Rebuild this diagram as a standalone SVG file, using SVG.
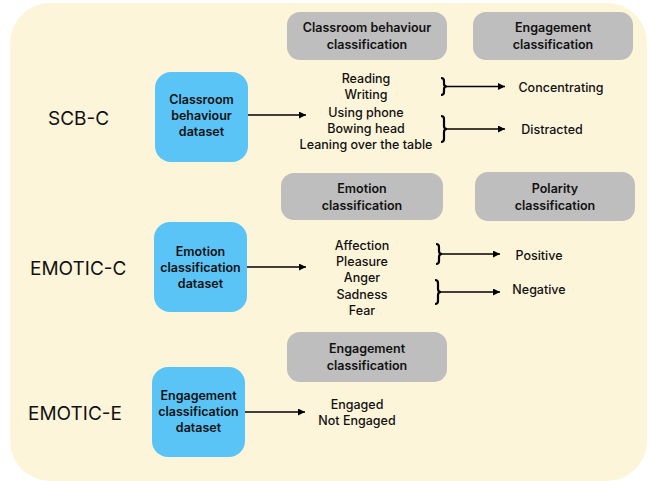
<svg xmlns="http://www.w3.org/2000/svg" width="650" height="481" viewBox="0 0 650 481">
<defs>
<marker id="ah" viewBox="0 0 10 10" refX="10" refY="5" markerWidth="7" markerHeight="7" markerUnits="userSpaceOnUse" orient="auto">
<path d="M0,0 L10,5 L0,10 z" fill="#000"/>
</marker>
<style>
.bg{fill:#FDF5DA}
.blue{fill:#5BC4F7}
.gray{fill:#BEBEBE}
text{font-family:Inter,"Noto Sans","DejaVu Sans",sans-serif;fill:#111}
.bt{font-size:12.5px;font-weight:600;text-anchor:middle}
.gt{font-size:12.5px;font-weight:600;text-anchor:middle}
.lt{font-size:12.5px;font-weight:500;text-anchor:middle}
.big{font-size:19px;font-weight:400}
.conn{stroke:#000;stroke-width:1.6;fill:none}
.brace{stroke:#000;stroke-width:2.2;fill:none}
</style>
</defs>
<rect class="bg" x="10" y="3" width="637" height="478" rx="40" ry="40"/>

<text class="big" x="48" y="125">SCB-C</text>
<text class="big" x="30" y="275">EMOTIC-C</text>
<text class="big" x="28" y="420">EMOTIC-E</text>

<g id="scb-dataset">
<rect class="blue" x="155" y="72" width="93" height="90" rx="16"/>
<text class="bt" x="201.5" y="104">Classroom</text>
<text class="bt" x="201.5" y="120">behaviour</text>
<text class="bt" x="201.5" y="136">dataset</text>
</g>
<g id="cb-class">
<rect class="gray" x="287" y="12" width="160" height="48" rx="13"/>
<text class="gt" x="367" y="32">Classroom behaviour</text>
<text class="gt" x="367" y="49">classification</text>
</g>
<g id="eng-class-1">
<rect class="gray" x="473" y="12" width="160" height="48" rx="13"/>
<text class="gt" x="553" y="32">Engagement</text>
<text class="gt" x="553" y="49">classification</text>
</g>
<g id="cb-list">
<text class="lt" x="366" y="83">Reading</text>
<text class="lt" x="366" y="99">Writing</text>
<text class="lt" x="366" y="117">Using phone</text>
<text class="lt" x="366" y="133">Bowing head</text>
<text class="lt" x="366" y="149">Leaning over the table</text>
</g>
<g id="concentrating"><text class="lt" x="561" y="92">Concentrating</text></g>
<g id="distracted"><text class="lt" x="552" y="134">Distracted</text></g>

<g id="emo-dataset">
<rect class="blue" x="154" y="222" width="93" height="90" rx="16"/>
<text class="bt" x="200.5" y="256">Emotion</text>
<text class="bt" x="200.5" y="272">classification</text>
<text class="bt" x="200.5" y="288">dataset</text>
</g>
<g id="emo-class">
<rect class="gray" x="281" y="173" width="162" height="47" rx="13"/>
<text class="gt" x="362" y="193">Emotion</text>
<text class="gt" x="362" y="210">classification</text>
</g>
<g id="pol-class">
<rect class="gray" x="475" y="172" width="160" height="49" rx="13"/>
<text class="gt" x="555" y="193">Polarity</text>
<text class="gt" x="555" y="210">classification</text>
</g>
<g id="emo-list">
<text class="lt" x="362" y="250">Affection</text>
<text class="lt" x="362" y="266">Pleasure</text>
<text class="lt" x="362" y="282">Anger</text>
<text class="lt" x="362" y="299">Sadness</text>
<text class="lt" x="362" y="315">Fear</text>
</g>
<g id="positive"><text class="lt" x="539" y="260">Positive</text></g>
<g id="negative"><text class="lt" x="539" y="294">Negative</text></g>

<g id="eng-dataset">
<rect class="blue" x="152" y="367" width="93" height="90" rx="16"/>
<text class="bt" x="198.5" y="400">Engagement</text>
<text class="bt" x="198.5" y="416">classification</text>
<text class="bt" x="198.5" y="432">dataset</text>
</g>
<g id="eng-class-2">
<rect class="gray" x="287" y="332" width="160" height="50" rx="13"/>
<text class="gt" x="367" y="353">Engagement</text>
<text class="gt" x="367" y="370">classification</text>
</g>
<g id="eng-list">
<text class="lt" x="357" y="409">Engaged</text>
<text class="lt" x="357" y="425">Not Engaged</text>
</g>

<g id="connectors">
<line class="conn" x1="248" y1="115" x2="306" y2="115" marker-end="url(#ah)"/>
<line class="conn" x1="247" y1="267" x2="306" y2="267" marker-end="url(#ah)"/>
<line class="conn" x1="245" y1="412" x2="305" y2="412" marker-end="url(#ah)"/>
<path class="brace" d="M441,78 Q444,78 444,81 L444,84 Q444,86.5 447,86.5 Q444,86.5 444,89 L444,92 Q444,95 441,95"/>
<line class="conn" x1="447" y1="86.5" x2="505" y2="86.5" marker-end="url(#ah)"/>
<path class="brace" d="M441,116 Q444,116 444,119 L444,126 Q444,129 447,129 Q444,129 444,132 L444,139 Q444,142 441,142"/>
<line class="conn" x1="447" y1="129" x2="505" y2="129" marker-end="url(#ah)"/>
<path class="brace" d="M436,244 Q439,244 439,247 L439,251 Q439,254 442,254 Q439,254 439,257 L439,261 Q439,264 436,264"/>
<line class="conn" x1="442" y1="254" x2="500" y2="254" marker-end="url(#ah)"/>
<path class="brace" d="M435,280 Q438,280 438,283 L438,289 Q438,292 441,292 Q438,292 438,295 L438,301 Q438,304 435,304"/>
<line class="conn" x1="441" y1="292" x2="500" y2="292" marker-end="url(#ah)"/>
</g>
</svg>
